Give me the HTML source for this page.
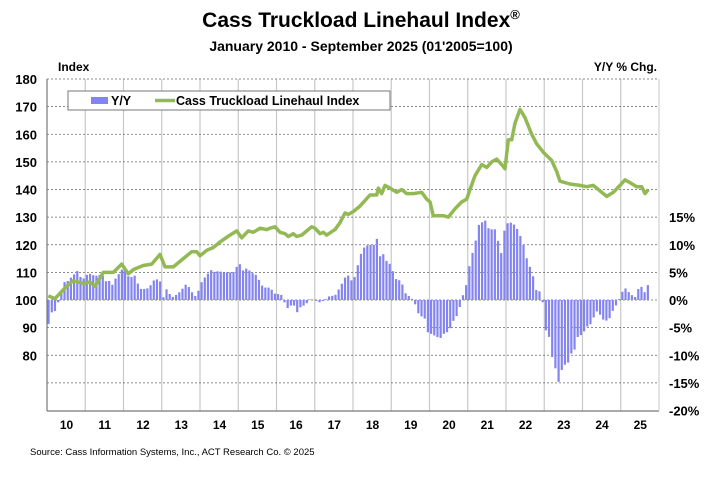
<!DOCTYPE html>
<html><head><meta charset="utf-8"><style>
body{margin:0;background:#fff;}
svg{display:block;font-family:"Liberation Sans",Arial,sans-serif;}
</style></head><body>
<svg id="c" width="722" height="481" viewBox="0 0 722 481" xmlns="http://www.w3.org/2000/svg">
<text x="361" y="27" text-anchor="middle" font-size="21" font-weight="bold">Cass Truckload Linehaul Index<tspan font-size="13" dy="-8">®</tspan></text>
<text x="361" y="51" text-anchor="middle" font-size="14" font-weight="bold">January 2010 - September 2025 (01'2005=100)</text>
<text x="58" y="71" font-size="12" font-weight="bold">Index</text>
<text x="657" y="71" font-size="12" font-weight="bold" text-anchor="end">Y/Y % Chg.</text>
<g id="g"></g>
<text x="30" y="455" font-size="9.5">Source: Cass Information Systems, Inc., ACT Research Co. © 2025</text>
</svg>
<script>
const NS="http://www.w3.org/2000/svg",g=document.getElementById('g');
function el(t,a,txt){const e=document.createElementNS(NS,t);for(const k in a)e.setAttribute(k,a[k]);if(txt!==undefined)e.textContent=txt;g.appendChild(e);return e;}
const L=47,R=659,T=79,B=411;
const yI=v=>T+(180-v)*2.7625, yP=p=>300-p*5.525;
// vertical grid
for(let i=1;i<16;i++){const x=L+i*38.25;el('line',{x1:x,x2:x,y1:T,y2:B,stroke:'#c8c8c8','stroke-width':1.2});}
for(let v=70;v<=180;v+=10){el('line',{x1:L,x2:R,y1:yI(v),y2:yI(v),stroke:'#666','stroke-width':0.8,'stroke-dasharray':'2,2'});}
for(let v=80;v<=180;v+=10)el('text',{x:37,y:yI(v)+5,'text-anchor':'end','font-size':13,'font-weight':'bold'},v);
for(let p=-20;p<=15;p+=5)el('text',{x:669,y:yP(p)+5,'font-size':13,'font-weight':'bold'},p+'%');
for(let i=0;i<16;i++)el('text',{x:L+i*38.25+19.5,y:429,'text-anchor':'middle','font-size':12,'font-weight':'bold'},String(10+i));
function interp(pts,x){if(x<=pts[0][0])return pts[0][1];for(let i=1;i<pts.length;i++){if(x<=pts[i][0]){const a=pts[i-1],b=pts[i];return a[1]+(b[1]-a[1])*(x-a[0])/(b[0]-a[0]);}}return pts[pts.length-1][1];}
// bars
const b1=[[145,91],[155,95.5],[165,96],[180,101],[190,106.5],[200,106.5],[220,109],[232,110.5],[245,107.5],[255,108],[265,110],[275,109],[285,109],[295,108.5],[305,110],[315,106.5],[325,107.5],[335,105],[345,107.5],[360,110],[372,112],[382,109.5],[390,107],[400,110],[410,107],[420,104],[430,104],[440,104],[450,105],[460,107],[470,107.5],[480,107],[490,101],[500,104],[510,102],[520,101],[530,102],[540,103],[550,104.5],[560,106],[570,104],[580,102],[590,101],[600,105.5],[610,107.5],[620,109],[635,111],[645,110],[655,110.5],[670,110],[680,110],[690,110],[700,110],[710,112],[720,113],[730,110.5],[740,111.5],[750,110.5],[760,109.5],[770,109],[780,106.5],[790,104.5],[800,104.5],[810,104.5],[820,103],[830,101.5],[840,103],[850,100],[862,97],[872,98],[882,98],[892,95.5],[902,97.5],[912,98],[922,99],[932,100.5],[942,100],[952,99.5],[962,99],[972,100],[982,100.5],[992,102],[1002,101],[1012,103],[1022,105],[1032,107.5],[1042,109.5],[1052,107],[1062,107.5],[1072,112],[1080,115.5]];
const b2=[[0,8],[15,9.8],[30,10],[40,9.8],[50,11.3],[60,7.9],[70,8.3],[80,7],[90,6.5],[100,5],[110,3.5],[120,3.6],[130,2.5],[140,0.6],[150,0.8],[165,-0.7],[175,-2.4],[185,-3],[195,-3.4],[205,-6.2],[215,-6.1],[225,-6.5],[235,-6.8],[245,-6.9],[255,-5.7],[265,-5.9],[275,-4.5],[285,-3.1],[295,-2.7],[305,0.6],[315,1.3],[325,5.3],[335,8],[345,10],[355,13.5],[365,14],[375,14.5],[385,13],[395,12.8],[405,12.8],[415,10.5],[425,8.2],[435,13.5],[445,14],[455,14],[465,13.5],[475,12.5],[485,11],[495,9.2],[505,6],[515,6],[525,2],[535,1.5],[545,1.7],[555,-5.4],[565,-5.8],[575,-10],[585,-12],[595,-15],[605,-12.7],[615,-11.7],[625,-11.3],[635,-9.5],[645,-8.9],[655,-6.2],[665,-6.4],[675,-5.4],[685,-4.5],[695,-4.3],[705,-2.4],[715,-1.8],[725,-3.5],[735,-3.6],[745,-3.9],[755,-2.3],[765,-1.3],[775,-0.2],[785,1.3],[795,2.2],[805,1.5],[815,0.9],[825,0.5],[835,2],[845,2.4],[855,1.3],[862,2.7]];
const bars=b1.map(p=>[p[0]/3,(p[1]-100)/2]).concat(b2.map(p=>[p[0]/3+360,p[1]]));
const mw=38.25/12;
for(let m=0;m<189;m++){const x=L+(m+0.5)*mw;const p=interp(bars,x);const y=yP(p);el('rect',{x:x-1.1,y:Math.min(y,300),width:2.2,height:Math.abs(y-300),fill:'#8484f0'});}
// line
const l1=[[145,101.5],[165,100.5],[200,105],[220,107],[250,106],[270,106.5],[285,105],[310,110],[340,110],[365,113],[385,109.5],[400,111],[430,112.5],[455,113],[480,116.5],[495,112],[520,112],[550,115],[575,117.5],[590,117.5],[600,116],[620,118],[640,119],[660,121],[690,123.5],[710,125],[725,122.5],[745,125],[760,124.5],[780,126],[800,125.5],[810,126],[825,126.5],[840,124.5],[855,124],[865,123],[880,124],[890,123],[905,123.5],[920,125],[935,126.5],[945,126],[960,124],[970,124.5],[980,123.5],[1005,125.5],[1020,128],[1035,131.5],[1045,131],[1060,132],[1080,134]];
const l2=[[0,134],[30,138],[50,138],[55,140.5],[65,138.5],[75,141.5],[90,140.5],[110,139],[125,140],[140,138.5],[160,138.5],[185,139],[200,136.5],[210,135.5],[220,130.5],[235,130.5],[250,130.5],[265,130],[285,133],[305,135.5],[320,136.5],[330,140],[345,145],[365,149],[380,148],[395,150],[410,151],[425,149],[435,147.5],[445,158],[455,158],[465,164],[480,169],[495,166],[515,160],[530,156.5],[550,153.5],[575,150.5],[590,146.5],[600,143],[630,142],[660,141.5],[680,141],[700,141.5],[720,139.5],[740,137.5],[760,139],[780,141.5],[795,143.5],[810,142.5],[830,141],[845,141],[855,138.5],[865,140]];
const lp=l1.map(p=>[p[0]/3,p[1]]).concat(l2.map(p=>[p[0]/3+360,p[1]]));
el('polyline',{points:lp.map(p=>p[0].toFixed(1)+','+yI(p[1]).toFixed(1)).join(' '),fill:'none',stroke:'#93b955','stroke-width':3.5,'stroke-linejoin':'round'});
// axes
el('line',{x1:L,x2:L,y1:T,y2:B,stroke:'#777','stroke-width':1.2});
el('line',{x1:L,x2:R,y1:B,y2:B,stroke:'#777','stroke-width':1.2});
el('line',{x1:R,x2:R,y1:T,y2:B,stroke:'#c8c8c8','stroke-width':1});
// legend
el('rect',{x:68,y:91,width:322,height:19,fill:'#fff',stroke:'#777','stroke-width':1});
el('rect',{x:91,y:97,width:17,height:7,fill:'#8484f0'});
el('text',{x:111,y:105,'font-size':12.5,'font-weight':'bold'},'Y/Y');
el('line',{x1:155,x2:175,y1:100.5,y2:100.5,stroke:'#93b955','stroke-width':3.5});
el('text',{x:176,y:105,'font-size':12.5,'font-weight':'bold'},'Cass Truckload Linehaul Index');
</script>
</body></html>
